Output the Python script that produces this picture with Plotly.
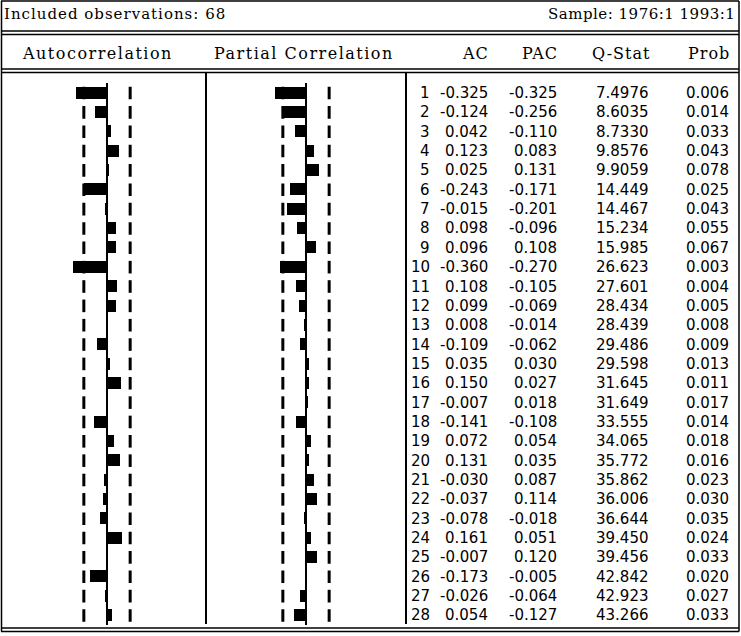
import numpy as np
import plotly.graph_objects as go

# Correlogram data (68 observations, sample 1976:1 1993:1)
lags = list(range(1, 29))
ac = [-0.325, -0.124, 0.042, 0.123, 0.025, -0.243, -0.015, 0.098, 0.096, -0.360,
      0.108, 0.099, 0.008, -0.109, 0.035, 0.150, -0.007, -0.141, 0.072, 0.131,
      -0.030, -0.037, -0.078, 0.161, -0.007, -0.173, -0.026, 0.054]
pac = [-0.325, -0.256, -0.110, 0.083, 0.131, -0.171, -0.201, -0.096, 0.108, -0.270,
       -0.105, -0.069, -0.014, -0.062, 0.030, 0.027, 0.018, -0.108, 0.054, 0.035,
       0.087, 0.114, -0.018, 0.051, 0.120, -0.005, -0.064, -0.127]
qstat = ["7.4976", "8.6035", "8.7330", "9.8576", "9.9059", "14.449", "14.467",
         "15.234", "15.985", "26.623", "27.601", "28.434", "28.439", "29.486",
         "29.598", "31.645", "31.649", "33.555", "34.065", "35.772", "35.862",
         "36.006", "36.644", "39.450", "39.456", "42.842", "42.923", "43.266"]
prob = ["0.006", "0.014", "0.033", "0.043", "0.078", "0.025", "0.043", "0.055",
        "0.067", "0.003", "0.004", "0.005", "0.008", "0.009", "0.013", "0.011",
        "0.017", "0.014", "0.018", "0.016", "0.023", "0.030", "0.035", "0.024",
        "0.033", "0.020", "0.027", "0.033"]
n_obs = 68
col_headers = ["AC", "PAC", "Q-Stat", "Prob"]

W, H = 741, 636
bound = 2 / np.sqrt(n_obs)


def px(x):
    return x / W


def py(y):
    return 1 - y / H


# row geometry
row0, row_step = 93.0, 19.35
top_px = row0 - row_step / 2
bot_px = top_px + 28 * row_step
scale = 95.5  # pixels per unit of correlation


def xrange(zero_px, lo_px, hi_px):
    return [(lo_px - zero_px) / scale, (hi_px - zero_px) / scale]


fig = go.Figure()

for ax, vals in (("x", ac), ("x2", pac)):
    fig.add_trace(go.Bar(
        x=vals, y=lags, orientation="h", xaxis=ax, yaxis="y",
        marker=dict(color="black", line=dict(width=0)), width=0.62,
        hoverinfo="skip", showlegend=False))
    for sgn in (-1, 1):
        fig.add_trace(go.Scatter(
            x=[sgn * bound] * len(lags), y=lags, xaxis=ax, yaxis="y",
            mode="markers",
            marker=dict(symbol="line-ns", size=9,
                        line=dict(color="black", width=3)),
            hoverinfo="skip", showlegend=False))

hidden = dict(showgrid=False, showticklabels=False, ticks="", showline=False,
              zeroline=True, zerolinecolor="black", zerolinewidth=2,
              fixedrange=True)
fig.update_layout(
    width=W, height=H, margin=dict(l=0, r=0, t=0, b=0),
    paper_bgcolor="white", plot_bgcolor="white", bargap=0,
    xaxis=dict(domain=[px(15), px(200)], range=xrange(107, 15, 200), **hidden),
    xaxis2=dict(domain=[px(214), px(399)], range=xrange(306, 214, 399),
                anchor="y", **hidden),
    yaxis=dict(domain=[py(bot_px), py(top_px)], range=[28.5, 0.5],
               showgrid=False, showticklabels=False, ticks="", zeroline=False,
               showline=False, fixedrange=True),
)

serif = dict(family="DejaVu Serif", size=16, color="black")
serif_small = dict(family="DejaVu Serif", size=15, color="black")
sans = dict(family="DejaVu Sans", size=15, color="black")


def spaced(s, sp=1):
    return '<span style="letter-spacing:%gpx">%s</span>' % (sp, s)


ann = []
ann.append(dict(text=spaced("Included observations: %d" % n_obs, 1),
                x=px(2), y=py(14), xanchor="left", font=serif_small))
ann.append(dict(text=spaced("Sample: 1976:1 1993:1", 0.5), x=px(737),
                y=py(14), xanchor="right", font=serif_small))
ann.append(dict(text=spaced("Autocorrelation", 1.5), x=px(20), y=py(53),
                xanchor="left", font=serif))
ann.append(dict(text=spaced("Partial Correlation", 1.5), x=px(212), y=py(53),
                xanchor="left", font=serif))

col_right = [490, 559, 651, 731]
for h, xr in zip(col_headers, col_right):
    ann.append(dict(text=spaced(h, 1), x=px(xr + 1), y=py(53),
                    xanchor="right", font=serif))

for i, lag in enumerate(lags):
    cells = [str(lag), "%.3f" % ac[i], "%.3f" % pac[i], qstat[i], prob[i]]
    for txt, xr in zip(cells, [432] + col_right):
        ann.append(dict(text=txt, x=px(xr), y=lag, yref="y", xref="paper",
                        xanchor="right", yanchor="middle", font=sans))

for a in ann:
    a.setdefault("xref", "paper")
    a.setdefault("yref", "paper")
    a.setdefault("yanchor", "middle")
    a["showarrow"] = False
fig.update_layout(annotations=ann)

shapes = []


def hline(y, x0=1, x1=739, w=1.5):
    shapes.append(dict(type="line", xref="paper", yref="paper", x0=px(x0),
                       x1=px(x1), y0=py(y), y1=py(y),
                       line=dict(color="black", width=w)))


def vline(x, y0, y1, w=1.5):
    shapes.append(dict(type="line", xref="paper", yref="paper", x0=px(x),
                       x1=px(x), y0=py(y0), y1=py(y1),
                       line=dict(color="black", width=w)))


hline(1)
hline(31)
hline(34.5)
hline(69)
hline(72.5)
hline(628)
hline(631.5)
vline(1.5, 1, 631.5)
vline(739, 1, 631.5)
vline(206, 73, 624, 2)
vline(406, 73, 624, 2)
fig.update_layout(shapes=shapes)

fig.write_html("out.html")
